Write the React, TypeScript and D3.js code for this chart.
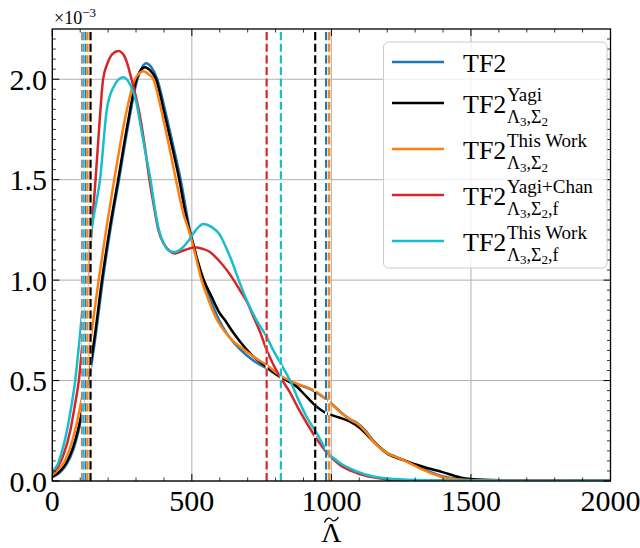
import React from "react";
import * as d3 from "d3";

// ---------- data (density in units of 1e-3) ----------
const blueX = [0,25,50,75,95,112,131,153,181,208,239,273,305,322,336,355,376,405,433,460,478,491,510,540,568,598,625,650,673,720,768,816,876,935,965,995,1030,1067,1091,1120,1151,1198,1230,1258,1300,1329,1370,1401,1461,1550,1800,2000];
const blueY = [0.02,0.04,0.08,0.155,0.254,0.37,0.5,0.7,1.0,1.25,1.5,1.78,2.0,2.06,2.08,2.06,2.0,1.84,1.67,1.5,1.36,1.26,1.15,1.0,0.9,0.8,0.735,0.69,0.655,0.6,0.56,0.518,0.482,0.45,0.423,0.392,0.347,0.307,0.29,0.255,0.2,0.142,0.121,0.105,0.078,0.06,0.036,0.022,0.01,0.004,0.002,0.001];

const blackX = [0,25,50,75,92,110,128,150,178,205,236,270,302,320,332,350,372,400,430,455,475,491,505,520,543,570,600,619,645,673,720,768,816,876,911,941,983,1001,1030,1067,1102,1151,1198,1258,1329,1401,1461,1500,1600,1800,2000];
const blackY = [0.02,0.045,0.09,0.17,0.254,0.37,0.5,0.7,1.0,1.25,1.5,1.78,2.0,2.05,2.06,2.045,2.0,1.84,1.66,1.5,1.35,1.25,1.18,1.1,1.0,0.92,0.835,0.8,0.745,0.693,0.62,0.569,0.519,0.469,0.42,0.378,0.337,0.328,0.315,0.295,0.264,0.196,0.138,0.104,0.071,0.043,0.018,0.01,0.004,0.002,0.001];

const orangeX = [0,20,41,60,82,100,118,140,166,195,222,260,296,312,326,345,362,390,415,443,470,491,510,535,560,591,620,645,673,720,768,816,876,935,965,995,1030,1067,1091,1120,1151,1198,1230,1258,1300,1329,1370,1401,1461,1550,1800,2000];
const orangeY = [0.03,0.055,0.09,0.15,0.254,0.37,0.5,0.73,1.0,1.27,1.5,1.8,2.0,2.03,2.04,2.025,2.0,1.85,1.69,1.5,1.33,1.24,1.14,1.0,0.9,0.8,0.74,0.7,0.668,0.62,0.577,0.525,0.485,0.453,0.425,0.39,0.345,0.305,0.287,0.25,0.196,0.14,0.12,0.104,0.075,0.055,0.032,0.017,0.008,0.003,0.002,0.001];

const redX = [0,20,40,65,80,95,112,127,141,155,169,182,198,215,237,260,284,300,315,332,348,365,380,400,420,440,475,511,540,565,595,625,650,672,700,720,745,768,790,816,852,880,911,947,988,1031,1091,1150,1200,1300,1500,2000];
const redY = [0.04,0.07,0.13,0.254,0.37,0.5,0.75,1.0,1.25,1.5,1.78,2.0,2.08,2.125,2.14,2.11,2.0,1.91,1.81,1.66,1.5,1.36,1.25,1.18,1.145,1.133,1.15,1.163,1.155,1.14,1.1,1.05,1.0,0.95,0.885,0.82,0.74,0.652,0.585,0.519,0.44,0.365,0.29,0.21,0.135,0.08,0.04,0.018,0.008,0.004,0.002,0.001];

const cyanX = [0,20,35,53,68,82,100,118,135,150,171,195,219,254,280,300,315,333,352,367,382,400,420,440,465,490,515,541,570,601,620,637,655,672,700,732,768,790,816,852,880,911,947,988,1031,1091,1150,1200,1300,1500,2000];
const cyanY = [0.05,0.085,0.15,0.254,0.37,0.5,0.74,1.0,1.2,1.33,1.5,1.846,1.96,2.01,1.97,1.89,1.78,1.64,1.5,1.36,1.25,1.18,1.145,1.14,1.16,1.2,1.25,1.279,1.265,1.224,1.17,1.116,1.05,0.985,0.89,0.8,0.718,0.655,0.59,0.5,0.41,0.32,0.239,0.14,0.09,0.048,0.022,0.012,0.005,0.002,0.001];

const seriesNames = ["TF2", "Yagi", "ThisWork", "YagiChan", "ThisWorkF"];
const seriesColors = ["#1f77b4", "#000000", "#ff7f0e", "#d62728", "#17becf"];
const lowerBounds = [120, 137, 126, 108, 112];
const upperBounds = [981, 942, 992, 768, 819];

const xTicks = [0, 500, 1000, 1500, 2000];
const yTicks = [0, 0.5, 1.0, 1.5, 2.0];
const legendSup = ["", "Yagi", "This Work", "Yagi+Chan", "This Work"];
const legendSubF = [false, false, false, true, true];

// ---------- layout ----------
const W = 640, H = 548;
const L = 52.3, R = 610.5, T = 29, B = 481;
const FONT = "'Liberation Serif', 'Times New Roman', serif";

export default function App() {
  const x = d3.scaleLinear().domain([0, 2000]).range([L, R]);
  const y = d3.scaleLinear().domain([0, 2.25]).range([B, T]);
  const xs = [blueX, blackX, orangeX, redX, cyanX];
  const ys = [blueY, blackY, orangeY, redY, cyanY];

  const xMinor = d3.range(0, 2001, 100);
  const yMinor = d3.range(0, 45).map(i => i * 0.05);

  const handleY = [62, 103, 149, 195, 241];
  const cx = (L + R) / 2;
  const tildePath = `M${cx - 7},${522.5} C${cx - 4},${516.5} ${cx - 1},${518} ${cx},${519.5} S${cx + 4},${522.5} ${cx + 7},${517}`;

  return (
    <svg width={W} height={H} style={{ position: "absolute", left: 0, top: 0, background: "#fff" }}
      fontFamily={FONT}>
      <defs>
        <clipPath id="plotclip">
          <rect x={L} y={T} width={R - L} height={B - T} />
        </clipPath>
      </defs>
      <rect x={0} y={0} width={W} height={H} fill="#fff" />
      {/* grid */}
      {xTicks.map(t => (
        <line key={"gx" + t} x1={x(t)} x2={x(t)} y1={T} y2={B} stroke="#b0b0b0" strokeWidth={1} />
      ))}
      {yTicks.map(t => (
        <line key={"gy" + t} x1={L} x2={R} y1={y(t)} y2={y(t)} stroke="#b0b0b0" strokeWidth={1} />
      ))}
      {/* curves */}
      <g clipPath="url(#plotclip)">
        {xs.map((xa, i) => {
          const pts = xa.map((v, j) => [x(v), y(ys[i][j])] as [number, number]);
          return (
            <path key={"c" + i} d={d3.line().curve(d3.curveMonotoneX)(pts) || ""}
              fill="none" stroke={seriesColors[i]} strokeWidth={2.5} strokeLinejoin="round" />
          );
        })}
        {/* vertical bounds */}
        {[...lowerBounds.map((v, i) => ({ v, i })), ...upperBounds.map((v, i) => ({ v, i }))].map(({ v, i }, k) => (
          <g key={"vl" + k}>
            <line x1={x(v)} x2={x(v)} y1={B} y2={T} stroke="#fff" strokeWidth={2.2} />
            <line x1={x(v)} x2={x(v)} y1={B} y2={T} stroke={seriesColors[i]} strokeWidth={2.2}
              strokeDasharray="8.1 3.5" />
          </g>
        ))}
      </g>
      {/* ticks */}
      {xMinor.map(t => {
        const major = t % 500 === 0;
        const len = major ? 7 : 3.5;
        return (
          <g key={"xt" + t}>
            <line x1={x(t)} x2={x(t)} y1={B} y2={B - len} stroke="#000" strokeWidth={major ? 1 : 0.8} />
            <line x1={x(t)} x2={x(t)} y1={T} y2={T + len} stroke="#000" strokeWidth={major ? 1 : 0.8} />
          </g>
        );
      })}
      {yMinor.map((t, k) => {
        const major = k % 10 === 0;
        const len = major ? 7 : 3.5;
        return (
          <g key={"yt" + k}>
            <line x1={L} x2={L + len} y1={y(t)} y2={y(t)} stroke="#000" strokeWidth={major ? 1 : 0.8} />
            <line x1={R} x2={R - len} y1={y(t)} y2={y(t)} stroke="#000" strokeWidth={major ? 1 : 0.8} />
          </g>
        );
      })}
      {/* spines */}
      <rect x={L} y={T} width={R - L} height={B - T} fill="none" stroke="#000" strokeWidth={1.3} />
      {/* tick labels */}
      {xTicks.map(t => (
        <text key={"xl" + t} x={x(t)} y={511} textAnchor="middle" fontSize={30}>{t}</text>
      ))}
      {yTicks.map(t => (
        <text key={"yl" + t} x={47} y={y(t) + 10.5} textAnchor="end" fontSize={30}>{d3.format(".1f")(t)}</text>
      ))}
      {/* offset text */}
      <text x={54} y={24} fontSize={18}>×10<tspan fontSize={13} dy={-7}>−3</tspan></text>
      {/* x label: Lambda with tilde accent */}
      <path d={tildePath} fill="none" stroke="#000" strokeWidth={1.3} />
      <text x={cx} y={542} textAnchor="middle" fontSize={28}>Λ</text>
      {/* legend */}
      <rect x={383.5} y={42} width={223.5} height={226} rx={5} ry={5} fill="#fff" fillOpacity={0.8}
        stroke="#cccccc" strokeWidth={1} />
      {seriesNames.map((n, i) => {
        const hy = handleY[i];
        return (
          <g key={"lg" + n}>
            <line x1={392} x2={444} y1={hy} y2={hy} stroke={seriesColors[i]} strokeWidth={2.5} />
            <text x={463} y={hy + 9.5} fontSize={26}>TF2</text>
            {i > 0 && (
              <>
                <text x={507} y={hy - 2} fontSize={19}>{legendSup[i]}</text>
                <text x={507} y={hy + 20} fontSize={18}>
                  Λ<tspan fontSize={13} dy={3}>3</tspan><tspan dy={-3}>,Σ</tspan><tspan fontSize={13} dy={3}>2</tspan>
                  {legendSubF[i] ? <tspan dy={-3}>,f</tspan> : null}
                </text>
              </>
            )}
          </g>
        );
      })}
    </svg>
  );
}
